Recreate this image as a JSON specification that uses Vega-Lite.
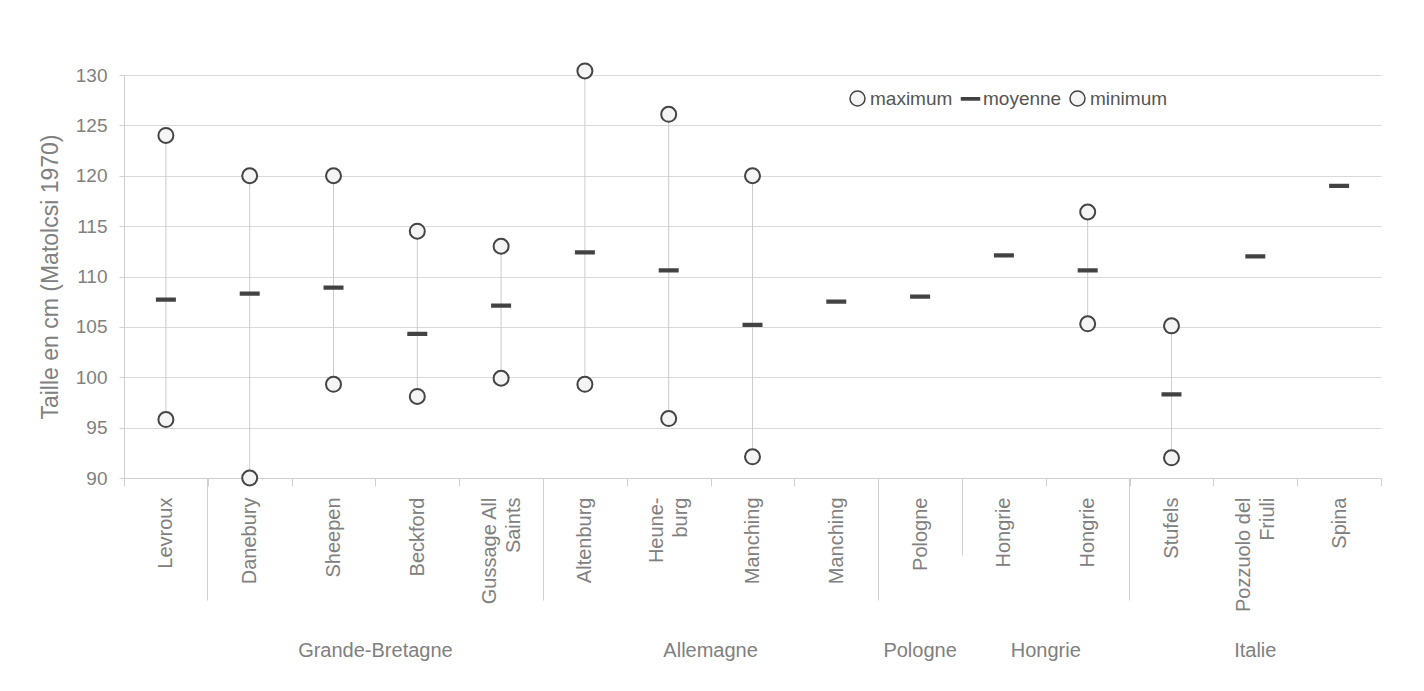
{
  "$schema": "https://vega.github.io/schema/vega-lite/v6.json",
  "padding": {"left": 39, "top": 59, "right": 5, "bottom": 5},
  "background": "white",
  "config": {
    "font": "Liberation Sans",
    "view": {"stroke": null},
    "axisY": {
      "values": [90, 95, 100, 105, 110, 115, 120, 125, 130],
      "grid": true,
      "gridColor": "#d9d9d9",
      "domainColor": "#d0d0d0",
      "tickColor": "#d0d0d0",
      "tickSize": 5,
      "labelFontSize": 19,
      "labelColor": "#808080",
      "labelPadding": 12,
      "titleFontSize": 23,
      "titleFontWeight": "normal",
      "titleColor": "#808080",
      "titlePadding": 13
    }
  },
  "datasets": {
    "sites": [
      {"site": "01|Levroux", "order": 1, "group": "", "maximum": 124.0, "moyenne": 107.7, "minimum": 95.8},
      {"site": "02|Danebury", "order": 2, "group": "Grande-Bretagne", "maximum": 120.0, "moyenne": 108.3, "minimum": 90.0},
      {"site": "03|Sheepen", "order": 3, "group": "Grande-Bretagne", "maximum": 120.0, "moyenne": 108.9, "minimum": 99.3},
      {"site": "04|Beckford", "order": 4, "group": "Grande-Bretagne", "maximum": 114.5, "moyenne": 104.3, "minimum": 98.1},
      {"site": "05|Gussage All|Saints", "order": 5, "group": "Grande-Bretagne", "maximum": 113.0, "moyenne": 107.1, "minimum": 99.9},
      {"site": "06|Altenburg", "order": 6, "group": "Allemagne", "maximum": 130.4, "moyenne": 112.4, "minimum": 99.3},
      {"site": "07|Heune-|burg", "order": 7, "group": "Allemagne", "maximum": 126.1, "moyenne": 110.6, "minimum": 95.9},
      {"site": "08|Manching", "order": 8, "group": "Allemagne", "maximum": 120.0, "moyenne": 105.2, "minimum": 92.1},
      {"site": "09|Manching", "order": 9, "group": "Allemagne", "maximum": null, "moyenne": 107.5, "minimum": null},
      {"site": "10|Pologne", "order": 10, "group": "Pologne", "maximum": null, "moyenne": 108.0, "minimum": null},
      {"site": "11|Hongrie", "order": 11, "group": "Hongrie", "maximum": null, "moyenne": 112.1, "minimum": null},
      {"site": "12|Hongrie", "order": 12, "group": "Hongrie", "maximum": 116.4, "moyenne": 110.6, "minimum": 105.3},
      {"site": "13|Stufels", "order": 13, "group": "Italie", "maximum": 105.1, "moyenne": 98.3, "minimum": 92.0},
      {"site": "14|Pozzuolo del|Friuli", "order": 14, "group": "Italie", "maximum": null, "moyenne": 112.0, "minimum": null},
      {"site": "15|Spina", "order": 15, "group": "Italie", "maximum": null, "moyenne": 119.0, "minimum": null}
    ]
  },
  "vconcat": [
    {
      "width": 1257,
      "height": 403,
      "data": {"name": "sites"},
      "layer": [
        {
          "mark": {"type": "rule", "color": "#cccccc", "strokeWidth": 1},
          "encoding": {
            "x": {
              "field": "site", "type": "nominal", "sort": "ascending",
              "scale": {"paddingInner": 0, "paddingOuter": 0},
              "axis": {
                "orient": "bottom", "title": null,
                "values": ["02|Danebury", "06|Altenburg", "10|Pologne", "11|Hongrie", "13|Stufels"],
                "labels": false, "domain": false, "grid": false, "ticks": true,
                "bandPosition": 0,
                "tickSize": {"condition": {"test": "datum.value === '11|Hongrie'", "value": 77}, "value": 122},
                "tickColor": "#d0d0d0"
              }
            },
            "y": {
              "field": "maximum", "type": "quantitative",
              "scale": {"domain": [90, 130], "nice": false, "zero": false},
              "axis": {"title": "Taille en cm (Matolcsi 1970)"}
            },
            "y2": {"field": "minimum"}
          }
        },
        {
          "transform": [{"fold": ["maximum", "moyenne", "minimum"], "as": ["serie", "taille"]}],
          "mark": {"type": "point", "filled": true, "stroke": "#444444", "strokeWidth": 2, "size": 225, "opacity": 1},
          "encoding": {
            "x": {
              "field": "site", "type": "nominal", "sort": "ascending",
              "axis": {
                "orient": "bottom", "title": null,
                "labelAngle": -90, "labelAlign": "right", "labelBaseline": "middle",
                "labelExpr": "slice(split(datum.value, '|'), 1)",
                "labelOffset": {"condition": {"test": "length(split(datum.value, '|')) > 2", "value": -12}, "value": 0},
                "labelFontSize": 20, "labelColor": "#808080", "labelPadding": 11,
                "labelLineHeight": 24, "labelOverlap": false,
                "tickBand": "extent", "tickSize": 8, "tickColor": "#d0d0d0",
                "domainColor": "#d0d0d0", "grid": false
              }
            },
            "y": {
              "field": "taille", "type": "quantitative",
              "axis": {"title": "Taille en cm (Matolcsi 1970)"}
            },
            "shape": {
              "field": "serie", "type": "nominal",
              "scale": {"domain": ["maximum", "moyenne", "minimum"], "range": ["circle", "M-1.2,-0.15H1.2V0.15H-1.2Z", "circle"]},
              "legend": {
                "orient": "none", "legendX": 724, "legendY": 14, "direction": "horizontal", "title": null,
                "labelFontSize": 19, "labelColor": "#555555", "labelOffset": 3, "columnPadding": 5,
                "symbolSize": 225,
                "encode": {"symbols": {"update": {"stroke": {"value": "#444444"}, "strokeWidth": {"value": 2}}}}
              }
            },
            "fill": {
              "field": "serie", "type": "nominal",
              "scale": {"domain": ["maximum", "moyenne", "minimum"], "range": ["#f4f4f4", "#333333", "#f4f4f4"]},
              "legend": {
                "orient": "none", "legendX": 724, "legendY": 14, "direction": "horizontal", "title": null,
                "labelFontSize": 19, "labelColor": "#555555", "labelOffset": 3, "columnPadding": 5,
                "symbolSize": 225,
                "encode": {"symbols": {"update": {"stroke": {"value": "#444444"}, "strokeWidth": {"value": 2}}}}
              }
            }
          }
        }
      ],
      "resolve": {"axis": {"x": "independent"}}
    },
    {
      "width": 1257,
      "height": 30,
      "data": {"name": "sites"},
      "mark": {"type": "text", "fontSize": 20, "color": "#808080"},
      "encoding": {
        "x": {
          "field": "order", "aggregate": "mean", "type": "quantitative",
          "scale": {"domain": [0.5, 15.5], "nice": false, "zero": false},
          "axis": null
        },
        "text": {"field": "group", "type": "nominal"}
      }
    }
  ],
  "spacing": 24
}
